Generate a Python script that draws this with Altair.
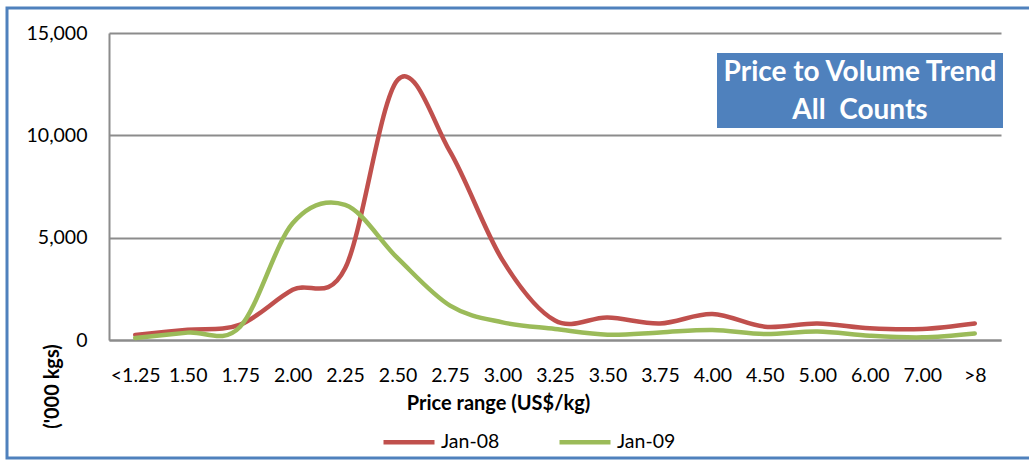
import altair as alt
import pandas as pd

# Price bands (US$/kg) and volumes ('000 kgs) for the two months
price_bands = ["<1.25", "1.50", "1.75", "2.00", "2.25", "2.50", "2.75", "3.00",
               "3.25", "3.50", "3.75", "4.00", "4.50", "5.00", "6.00", "7.00", ">8"]
jan08 = [250, 500, 750, 2450, 3500, 12700, 9200, 3900,
         950, 1100, 810, 1270, 650, 810, 570, 540, 810]
jan09 = [100, 360, 650, 5700, 6600, 4000, 1680, 860,
         540, 260, 370, 490, 290, 420, 210, 130, 320]
series_names = ["Jan-08", "Jan-09"]
series_colors = ["#C0504D", "#9BBB59"]

rows = []
for name, vals in zip(series_names, [jan08, jan09]):
    for band, v in zip(price_bands, vals):
        rows.append({"band": band, "series": name, "volume": v})
df = pd.DataFrame(rows)

FONT = "Lato"
W, H = 892, 307
one = pd.DataFrame({"k": [0]})

lines = alt.Chart(df).mark_line(
    interpolate="cardinal", strokeWidth=4.5, strokeCap="round"
).encode(
    x=alt.X("band:N", sort=price_bands,
            scale=alt.Scale(type="point", padding=0.5),
            axis=alt.Axis(title="Price range (US$/kg)", labelAngle=0,
                          labelFontSize=19.5, labelFont=FONT, labelColor="#000",
                          labelPadding=26, ticks=False,
                          domainColor="#8c8c8c", domainWidth=2,
                          titleFont=FONT, titleFontSize=20, titleFontWeight="bold",
                          titleColor="#000", titleX=389, titleY=63,
                          titleAlign="center", titleBaseline="middle")),
    y=alt.Y("volume:Q", scale=alt.Scale(domain=[0, 15000]),
            axis=alt.Axis(title="('000 kgs)", values=[0, 5000, 10000, 15000],
                          format=",.0f", labelFontSize=19.5, labelFont=FONT,
                          labelColor="#000", labelPadding=22, ticks=False,
                          grid=True, gridColor="#8c8c8c", gridWidth=2,
                          domainColor="#8c8c8c", domainWidth=2,
                          titleFont=FONT, titleFontSize=20, titleFontWeight="bold",
                          titleColor="#000", titleAngle=270, titleX=-57, titleY=353,
                          titleAlign="center", titleBaseline="middle")),
    color=alt.Color("series:N", sort=series_names,
                    scale=alt.Scale(domain=series_names, range=series_colors),
                    legend=alt.Legend(title=None, orient="none", direction="horizontal",
                                      legendX=272, legendY=381,
                                      symbolType="stroke", symbolSize=2601,
                                      symbolStrokeWidth=4.5,
                                      labelFont=FONT, labelFontSize=19.5,
                                      labelColor="#000", labelOffset=4,
                                      columnPadding=50, padding=0)),
)

# outer frame of the figure
frame = alt.Chart(one).mark_rect(
    fill=None, stroke="#4F81BD", strokeWidth=3
).encode(x=alt.value(-102), x2=alt.value(W + 40),
         y=alt.value(-25), y2=alt.value(H + 118))

# title panel in the upper right
box = alt.Chart(one).mark_rect(fill="#4F81BD").encode(
    x=alt.value(608), x2=alt.value(894), y=alt.value(20), y2=alt.value(95))
title1 = alt.Chart(one).mark_text(
    text="Price to Volume Trend", font=FONT, fontSize=28, fontWeight="bold",
    color="white", align="center", baseline="middle"
).encode(x=alt.value(751), y=alt.value(40))
title2 = alt.Chart(one).mark_text(
    text="All\u00a0 Counts", font=FONT, fontSize=28, fontWeight="bold",
    color="white", align="center", baseline="middle"
).encode(x=alt.value(751), y=alt.value(78))

chart = alt.layer(lines, box, title1, title2, frame).properties(
    width=W, height=H,
    autosize=alt.AutoSizeParams(type="none"),
    padding={"left": 109, "top": 33, "right": 28, "bottom": 120},
    background="white",
).configure_view(stroke=None)

chart.save("out.html", embed_options={"renderer": "svg", "actions": False})
